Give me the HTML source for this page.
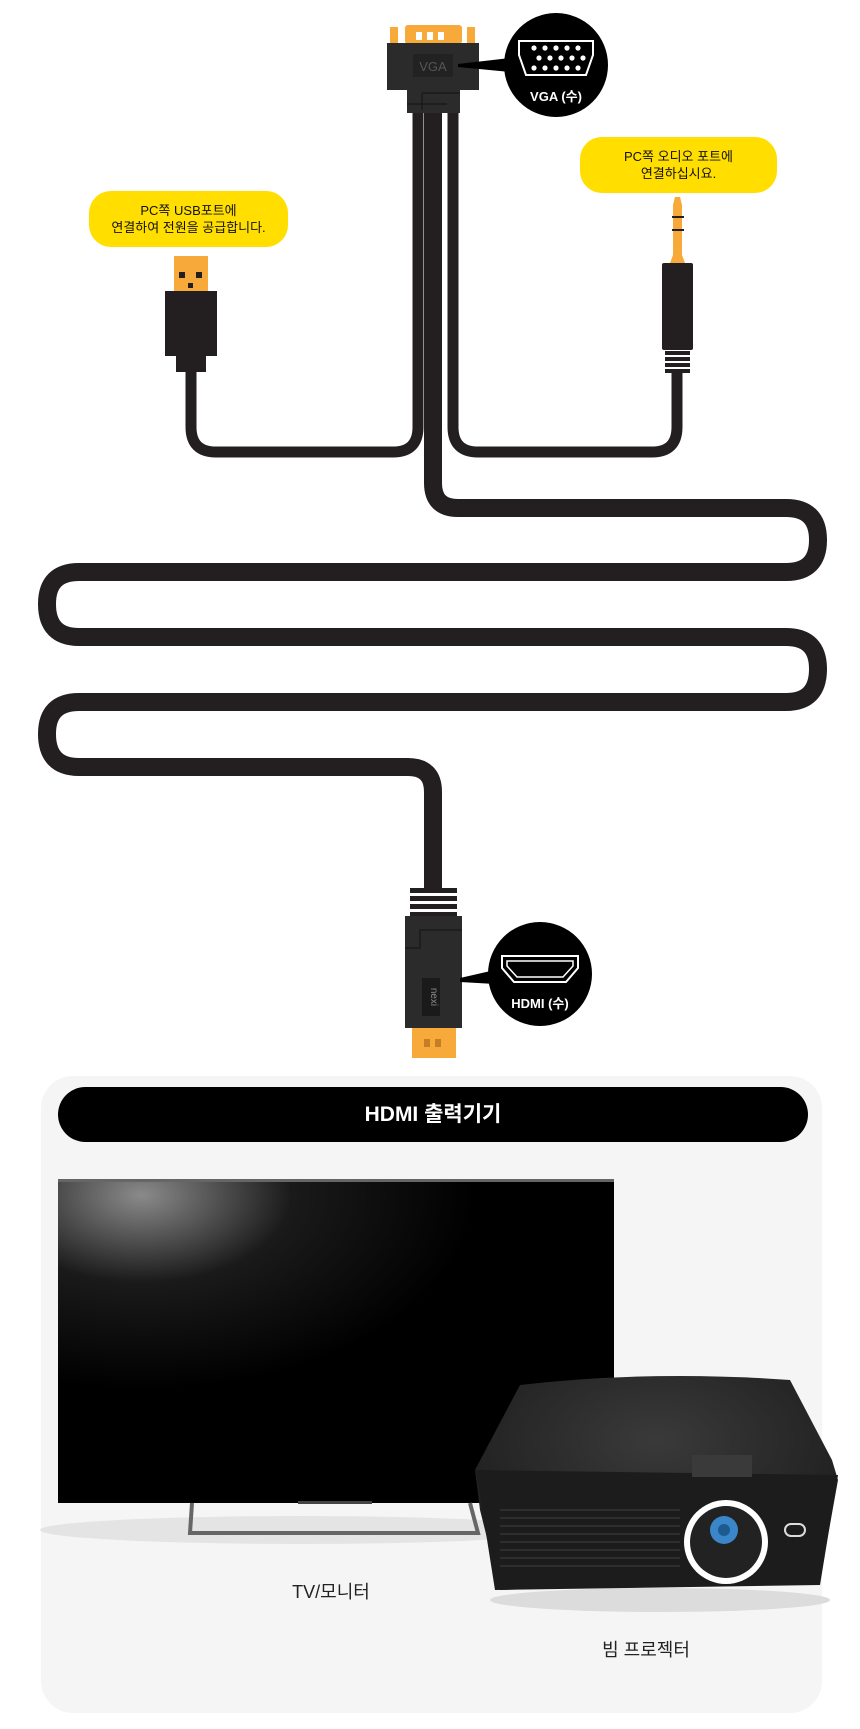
<!DOCTYPE html>
<html><head><meta charset="utf-8"><style>
html,body{margin:0;padding:0;background:#fff;}
body{width:860px;height:1729px;position:relative;overflow:hidden;font-family:"Liberation Sans","Noto Sans CJK KR",sans-serif;}
.t{position:absolute;text-align:center;}
</style></head><body>
<svg width="860" height="1729" viewBox="0 0 860 1729" style="position:absolute;left:0;top:0">
<defs>
<radialGradient id="tvg" cx="0.15" cy="0.05" r="0.6">
<stop offset="0" stop-color="#8a8a8a"/><stop offset="0.45" stop-color="#1a1a1a"/><stop offset="1" stop-color="#000"/>
</radialGradient>
<radialGradient id="pj" cx="0.5" cy="0.3" r="0.7">
<stop offset="0" stop-color="#3a3a3a"/><stop offset="1" stop-color="#1a1a1a"/>
</radialGradient>
</defs>
<!-- gray panel -->
<rect x="41" y="1076" width="781" height="637" rx="32" fill="#f5f5f5"/>
<!-- cables -->
<g fill="none" stroke="#231f20" stroke-linecap="butt">
<path d="M191 370 V427 Q191 452 216 452 H393 Q418 452 418 427 V110" stroke-width="11"/>
<path d="M677 370 V427 Q677 452 652 452 H478 Q453 452 453 427 V110" stroke-width="11"/>
<path d="M433 110 V483 Q433 508 458 508 H786 Q818 508 818 540 Q818 572 786 572 H79 Q47 572 47 604 Q47 637 79 637 H786 Q818 637 818 669 Q818 702 786 702 H79 Q47 702 47 734 Q47 767 79 767 H408 Q433 767 433 792 V890" stroke-width="18"/>
</g>
<!-- VGA connector -->
<rect x="390" y="27" width="8" height="17" fill="#f7a93a"/>
<rect x="467" y="27" width="8" height="17" fill="#f7a93a"/>
<rect x="405" y="25" width="57" height="19" rx="3" fill="#f7a93a"/>
<rect x="416" y="32" width="6" height="8" fill="#fff"/><rect x="427" y="32" width="6" height="8" fill="#fff"/><rect x="438" y="32" width="6" height="8" fill="#fff"/>
<rect x="387" y="43" width="92" height="47" fill="#2b2b2b"/>
<rect x="407" y="43" width="53" height="70" fill="#2b2b2b"/>
<rect x="413" y="54" width="40" height="23" fill="#222"/>
<text x="433" y="71" font-size="13" fill="#555" text-anchor="middle" font-family="Liberation Sans,sans-serif">VGA</text>
<path d="M407 104 H447 M422 93 V110 M422 93 H460" stroke="#1a1a1a" stroke-width="1.5" fill="none"/>
<polygon points="458,64 510,58 510,72 458,67" fill="#000"/>
<circle cx="556" cy="65" r="52" fill="#000"/>
<path d="M519 41 H593 V55 L586 75 H526 L519 55 Z" fill="none" stroke="#fff" stroke-width="2"/>
<g fill="#fff">
<circle cx="534" cy="48" r="2.6"/><circle cx="545" cy="48" r="2.6"/><circle cx="556" cy="48" r="2.6"/><circle cx="567" cy="48" r="2.6"/><circle cx="578" cy="48" r="2.6"/>
<circle cx="539" cy="58" r="2.6"/><circle cx="550" cy="58" r="2.6"/><circle cx="561" cy="58" r="2.6"/><circle cx="572" cy="58" r="2.6"/><circle cx="583" cy="58" r="2.6"/>
<circle cx="534" cy="68" r="2.6"/><circle cx="545" cy="68" r="2.6"/><circle cx="556" cy="68" r="2.6"/><circle cx="567" cy="68" r="2.6"/><circle cx="578" cy="68" r="2.6"/>
</g>
<text x="556" y="101" font-size="13" font-weight="bold" fill="#fff" text-anchor="middle" font-family="Liberation Sans,Noto Sans CJK KR,sans-serif">VGA (수)</text>
<!-- USB -->
<rect x="174" y="256" width="34" height="35" fill="#f7a93a"/>
<rect x="179" y="272" width="6" height="6" fill="#231f20"/><rect x="196" y="272" width="6" height="6" fill="#231f20"/><rect x="188" y="283" width="5" height="5" fill="#231f20"/>
<rect x="165" y="291" width="52" height="65" fill="#231f20"/>
<rect x="176" y="356" width="30" height="16" fill="#231f20"/>
<!-- audio jack -->
<path d="M675 197 L680 197 L682 205 L682 255 L685 263 L670 263 L673 255 L673 205 Z" fill="#f7a93a"/>
<rect x="672" y="216" width="12" height="2" fill="#231f20"/><rect x="672" y="229" width="12" height="2" fill="#231f20"/>
<rect x="662" y="263" width="31" height="87" rx="2" fill="#231f20"/>
<g fill="#231f20"><rect x="665" y="351" width="25" height="4"/><rect x="665" y="357" width="25" height="4"/><rect x="665" y="363" width="25" height="4"/><rect x="665" y="369" width="25" height="4"/></g>
<!-- bubbles -->
<rect x="89" y="191" width="199" height="56" rx="22" fill="#ffde00"/>
<rect x="580" y="137" width="197" height="56" rx="22" fill="#ffde00"/>
<!-- HDMI connector -->
<g fill="#231f20"><rect x="410" y="888" width="47" height="5"/><rect x="410" y="896" width="47" height="5"/><rect x="410" y="904" width="47" height="5"/><rect x="410" y="912" width="47" height="5"/></g>
<rect x="405" y="916" width="57" height="112" fill="#2b2b2b"/>
<path d="M405 948 H420 V930 H462" stroke="#1a1a1a" stroke-width="1.5" fill="none"/>
<rect x="422" y="978" width="18" height="38" fill="#1a1a1a"/>
<text x="431" y="997" font-size="10" fill="#888" text-anchor="middle" transform="rotate(90 431 997)" font-family="Liberation Sans,sans-serif">nexi</text>
<rect x="412" y="1028" width="44" height="30" fill="#f7a93a"/>
<rect x="424" y="1039" width="6" height="8" fill="#c47e25"/><rect x="435" y="1039" width="6" height="8" fill="#c47e25"/>
<polygon points="460,978 495,970 495,984 460,982" fill="#000"/>
<circle cx="540" cy="974" r="52" fill="#000"/>
<path d="M502 956 H578 V968 L566 982 H514 L502 968 Z" fill="none" stroke="#fff" stroke-width="2"/>
<path d="M507 961 H573 V966 L563 977 H517 L507 966 Z" fill="none" stroke="#fff" stroke-width="1.5"/>
<text x="540" y="1008" font-size="13" font-weight="bold" fill="#fff" text-anchor="middle" font-family="Liberation Sans,Noto Sans CJK KR,sans-serif">HDMI (수)</text>
<!-- header bar -->
<rect x="58" y="1087" width="750" height="55" rx="27.5" fill="#000"/>
<!-- TV -->
<ellipse cx="300" cy="1530" rx="260" ry="14" fill="#e4e4e4"/>
<rect x="58" y="1179" width="556" height="324" fill="url(#tvg)"/>
<rect x="58" y="1179" width="556" height="3" fill="#666"/>
<rect x="298" y="1501" width="74" height="3" fill="#444"/>
<path d="M192 1503 L190 1533 H478 L470 1503" fill="none" stroke="#666" stroke-width="4"/>
<!-- projector -->
<ellipse cx="660" cy="1600" rx="170" ry="12" fill="#dcdcdc"/>
<path d="M520 1385 Q650 1370 790 1380 L832 1460 L838 1480 L820 1580 L500 1590 L480 1510 L475 1470 Z" fill="url(#pj)"/>
<path d="M476 1470 L838 1475 L820 1585 L495 1590 Z" fill="#1c1c1c"/>
<rect x="692" y="1455" width="60" height="22" fill="#3a3a3a"/>
<g stroke="#2e2e2e" stroke-width="2">
<line x1="500" y1="1510" x2="680" y2="1510"/><line x1="500" y1="1518" x2="680" y2="1518"/><line x1="500" y1="1526" x2="680" y2="1526"/><line x1="500" y1="1534" x2="680" y2="1534"/><line x1="500" y1="1542" x2="680" y2="1542"/><line x1="500" y1="1550" x2="680" y2="1550"/><line x1="500" y1="1558" x2="680" y2="1558"/><line x1="500" y1="1566" x2="680" y2="1566"/>
</g>
<circle cx="726" cy="1542" r="42" fill="#fff"/>
<circle cx="726" cy="1542" r="36" fill="#222"/>
<circle cx="724" cy="1530" r="14" fill="#3a86c8"/>
<circle cx="724" cy="1530" r="6" fill="#1d5a90"/>
<rect x="785" y="1524" width="20" height="12" rx="6" fill="none" stroke="#ddd" stroke-width="2"/>
</svg>
<div class="t" style="left:89px;top:202px;width:199px;font-size:13px;line-height:17px;color:#111;">PC쪽 USB포트에<br>연결하여 전원을 공급합니다.</div>
<div class="t" style="left:580px;top:148px;width:197px;font-size:13px;line-height:17px;color:#111;">PC쪽 오디오 포트에<br>연결하십시요.</div>
<div class="t" style="left:58px;top:1101px;width:750px;font-size:21px;line-height:28px;color:#fff;font-weight:bold;">HDMI 출력기기</div>
<div class="t" style="left:231px;top:1580px;width:200px;font-size:18px;line-height:24px;color:#222;">TV/모니터</div>
<div class="t" style="left:546px;top:1638px;width:200px;font-size:18px;line-height:24px;color:#222;">빔 프로젝터</div>
</body></html>
